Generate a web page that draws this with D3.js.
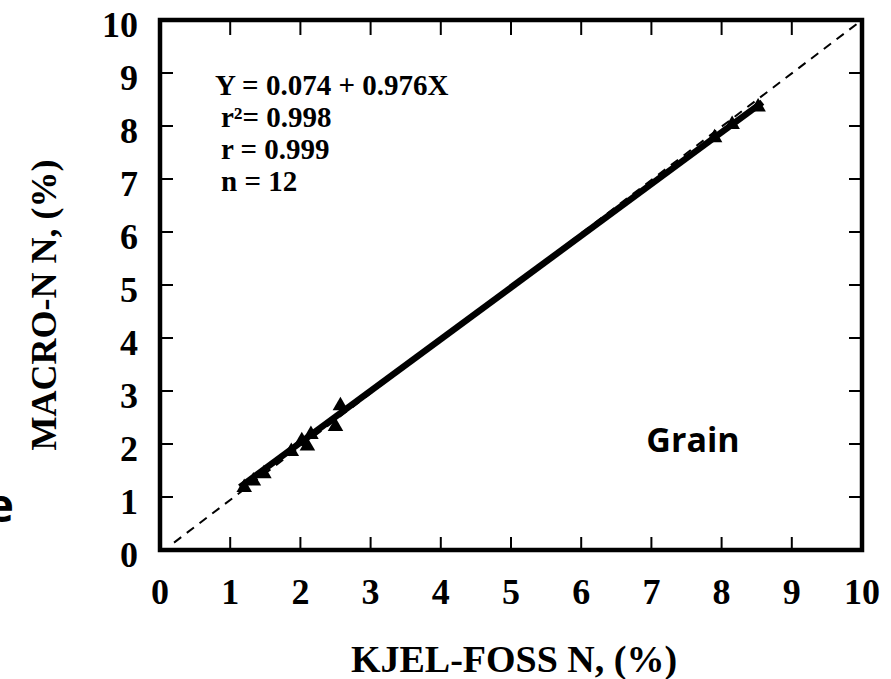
<!DOCTYPE html>
<html>
<head>
<meta charset="utf-8">
<script src="https://cdn.jsdelivr.net/npm/d3@7"></script>
<style>
  body { margin: 0; background: #fff; }
  .tick-label { font-family: "Liberation Serif", "Times New Roman", serif; font-weight: bold; }
</style>
</head>
<body>
<script>
// data
var kjel  = [1.20, 1.33, 1.48, 1.87, 2.02, 2.10, 2.15, 2.50, 2.57, 7.90, 8.15, 8.52];
var macro = [1.18, 1.30, 1.44, 1.86, 2.06, 1.96, 2.18, 2.33, 2.72, 7.78, 8.03, 8.36];
var xTicks = [0, 1, 2, 3, 4, 5, 6, 7, 8, 9, 10];
var yTicks = [0, 1, 2, 3, 4, 5, 6, 7, 8, 9, 10];
var fitIntercept = 0.074, fitSlope = 0.976;
var statLines = ["Y = 0.074 + 0.976X", "r\u00b2= 0.998", "r = 0.999", "n = 12"];

var margin = {top: 20, right: 29, bottom: 129, left: 160},
    width = 891 - margin.left - margin.right,
    height = 679 - margin.top - margin.bottom;

var x = d3.scaleLinear().domain([0, 10]).range([0, width]);
var y = d3.scaleLinear().domain([0, 10]).range([height, 0]);

var root = d3.select("body").append("svg")
    .attr("width", 891)
    .attr("height", 679);

var svg = root.append("g")
    .attr("transform", "translate(" + margin.left + "," + margin.top + ")");

// 1:1 dashed line
svg.append("line")
    .attr("x1", x(0.2)).attr("y1", y(0.14))
    .attr("x2", x(10)).attr("y2", y(10))
    .attr("stroke", "#000")
    .attr("stroke-width", 2)
    .attr("stroke-dasharray", "9,7");

// fitted line
var xMin = d3.min(kjel) - 0.06, xMax = d3.max(kjel) + 0.06;
svg.append("line")
    .attr("x1", x(xMin)).attr("y1", y(fitIntercept + fitSlope * xMin))
    .attr("x2", x(xMax)).attr("y2", y(fitIntercept + fitSlope * xMax))
    .attr("stroke", "#000")
    .attr("stroke-width", 6.5);

// points
var pts = kjel.map(function(d, i) { return {x: d, y: macro[i]}; });
svg.selectAll(".pt")
    .data(pts)
  .enter().append("path")
    .attr("class", "pt")
    .attr("d", d3.symbol().type(d3.symbolTriangle).size(105))
    .attr("transform", function(d) { return "translate(" + x(d.x) + "," + y(d.y) + ")"; })
    .attr("fill", "#000");

// ticks, inward on all four sides
var tickLen = 13;
svg.selectAll(".xt")
    .data(xTicks.slice(1, -1))
  .enter().append("g")
    .each(function(d) {
      var g = d3.select(this);
      g.append("line").attr("x1", x(d)).attr("x2", x(d))
        .attr("y1", height).attr("y2", height - tickLen)
        .attr("stroke", "#000").attr("stroke-width", 2);
      g.append("line").attr("x1", x(d)).attr("x2", x(d))
        .attr("y1", 0).attr("y2", tickLen + 2)
        .attr("stroke", "#000").attr("stroke-width", 2);
    });
svg.selectAll(".yt")
    .data(yTicks.slice(1, -1))
  .enter().append("g")
    .each(function(d) {
      var g = d3.select(this);
      g.append("line").attr("x1", 0).attr("x2", tickLen)
        .attr("y1", y(d)).attr("y2", y(d))
        .attr("stroke", "#000").attr("stroke-width", 2);
      g.append("line").attr("x1", width).attr("x2", width - tickLen)
        .attr("y1", y(d)).attr("y2", y(d))
        .attr("stroke", "#000").attr("stroke-width", 2);
    });

// frame
svg.append("rect")
    .attr("x", 0).attr("y", 0)
    .attr("width", width).attr("height", height)
    .attr("fill", "none")
    .attr("stroke", "#000")
    .attr("stroke-width", 4.5);

// tick labels
svg.selectAll(".xl")
    .data(xTicks)
  .enter().append("text")
    .attr("class", "tick-label")
    .attr("x", function(d) { return x(d); })
    .attr("y", height + 54)
    .attr("text-anchor", "middle")
    .style("font-size", "36px")
    .text(function(d) { return d; });

svg.selectAll(".yl")
    .data(yTicks)
  .enter().append("text")
    .attr("class", "tick-label")
    .attr("x", -22)
    .attr("y", function(d) { return y(d) + 17; })
    .attr("text-anchor", "end")
    .style("font-size", "36px")
    .text(function(d) { return d; });

// axis titles
svg.append("text")
    .attr("class", "tick-label")
    .attr("x", width / 2 + 3)
    .attr("y", height + 122)
    .attr("text-anchor", "middle")
    .style("font-size", "38px")
    .text("KJEL-FOSS N, (%)");

svg.append("text")
    .attr("class", "tick-label")
    .attr("transform", "rotate(-90)")
    .attr("x", -(y(5) + 20))
    .attr("y", -104)
    .attr("text-anchor", "middle")
    .style("font-size", "36px")
    .text("MACRO-N N, (%)");

// regression stats
svg.selectAll(".stat")
    .data(statLines)
  .enter().append("text")
    .attr("class", "tick-label")
    .attr("x", function(d, i) { return i === 0 ? 55 : 61; })
    .attr("y", function(d, i) { return 75 + i * 32; })
    .style("font-size", "29px")
    .text(function(d) { return d; });

// panel label
svg.append("text")
    .attr("x", 533)
    .attr("y", 432)
    .attr("text-anchor", "middle")
    .style("font-family", "'Open Sans', sans-serif")
    .style("font-weight", "bold")
    .style("font-size", "34px")
    .text("Grain");

// cut-off letter at the left edge
root.append("text")
    .attr("x", 14)
    .attr("y", 522)
    .attr("text-anchor", "end")
    .style("font-family", "'Open Sans', sans-serif")
    .style("font-weight", "bold")
    .style("font-size", "46px")
    .text("e");
</script>
</body>
</html>
